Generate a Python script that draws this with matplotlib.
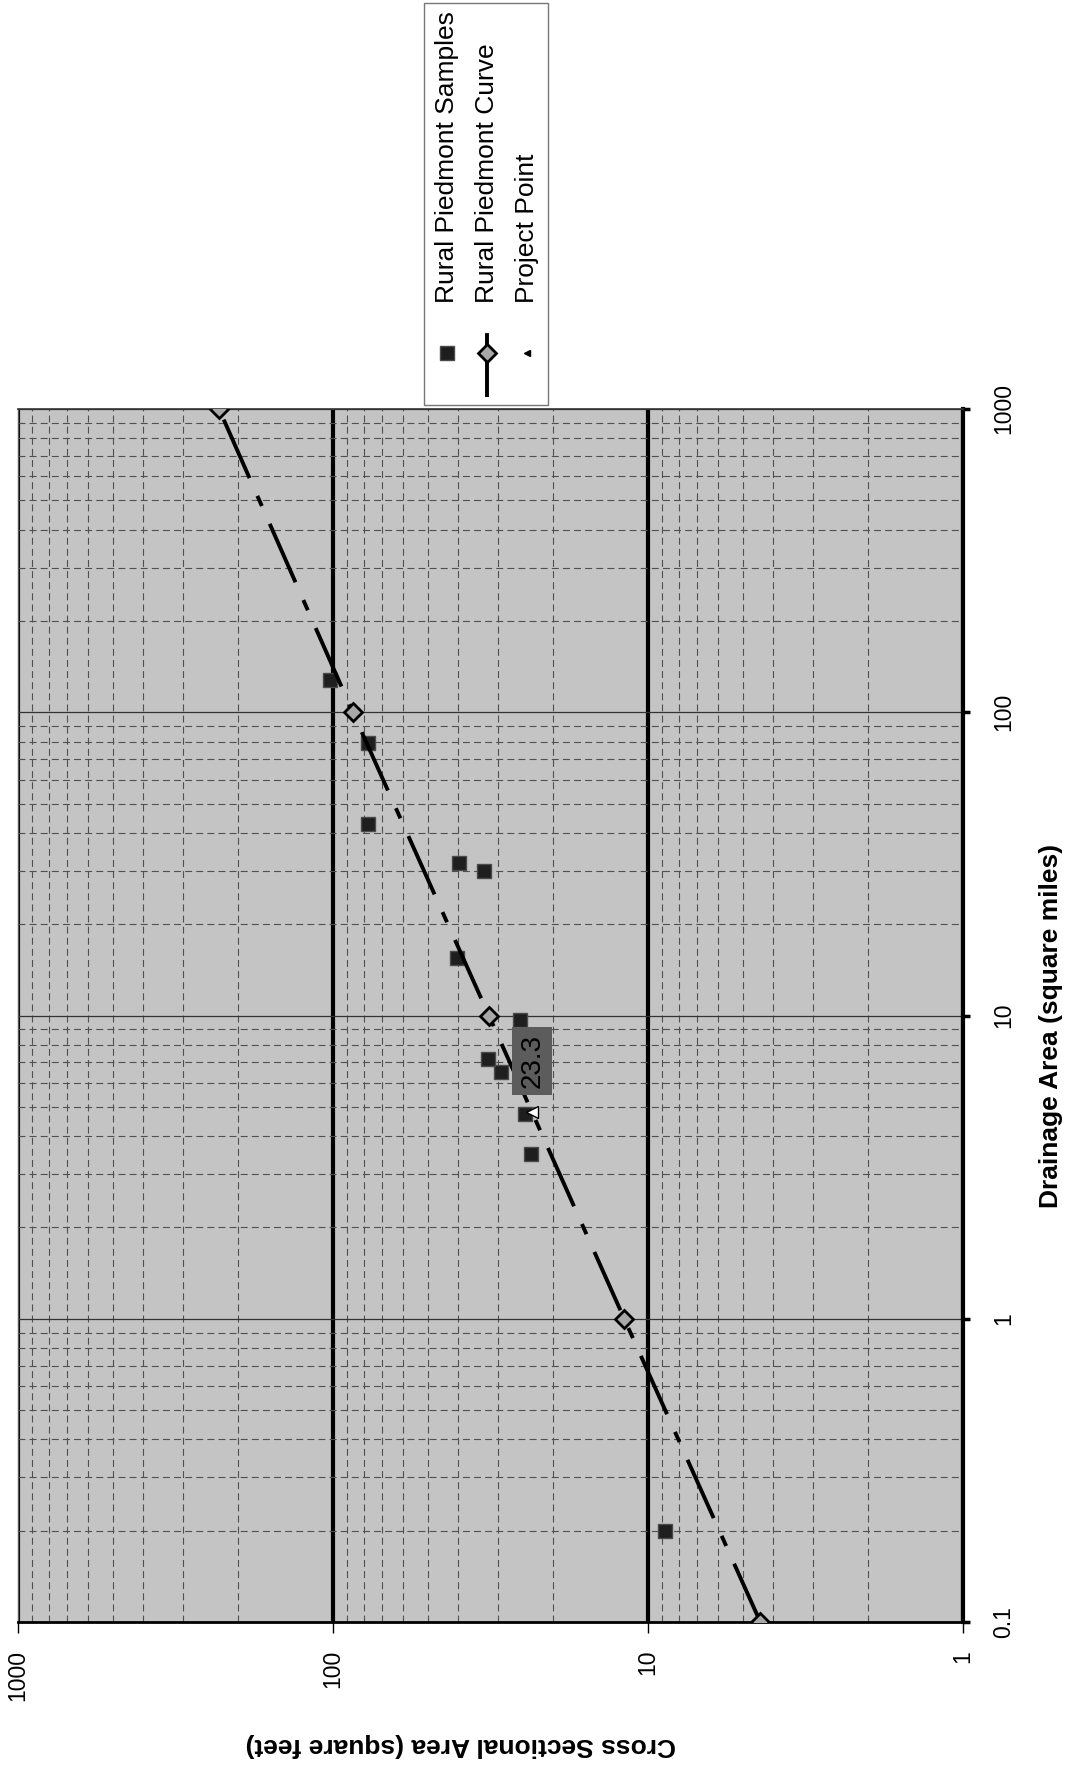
import matplotlib
matplotlib.use("Agg")
import matplotlib.pyplot as plt
from matplotlib.patches import Rectangle
from matplotlib.lines import Line2D
from matplotlib.ticker import LogLocator, NullFormatter

plt.rcParams['font.family'] = ['Liberation Sans', 'DejaVu Sans']
plt.rcParams['lines.scale_dashes'] = False

# rural piedmont samples: drainage area (sq mi) / cross sectional area (sq ft)
sample_da = [0.2, 3.5, 4.75, 6.5, 7.2, 9.7, 15.5, 29.9, 31.8, 42.7, 79, 128]
sample_xs = [8.8, 23.5, 24.5, 29.3, 32.2, 25.5, 40.4, 33.2, 39.8, 77.4, 77.4, 102]

# regional curve
curve_da = [0.1, 1, 10, 100, 1000]
curve_xs = [4.4, 11.9, 32.0, 86.5, 230]

# project point
project_da = [4.8]
project_xs = [23.3]

xs_ticks = [1000, 100, 10, 1]
xs_labels = ["1000", "100", "10", "1"]
da_ticks = [0.1, 1, 10, 100, 1000]
da_labels = ["0.1", "1", "10", "100", "1000"]

W, H = 1070, 1767
fig = plt.figure(figsize=(W / 100, H / 100), dpi=100)

def fx(x):
    return x / W

def fy(y):
    return 1 - y / H

# chart is drawn turned on its side: cross section runs right-to-left, drainage area bottom-to-top
ax = fig.add_axes([fx(18), fy(1622), (963 - 18) / W, (1622 - 409) / H])
ax.set_facecolor('#c4c4c4')
ax.set_xscale('log')
ax.set_yscale('log')
ax.set_xlim(1000, 1)
ax.set_ylim(0.1, 1000)

ax.xaxis.set_minor_locator(LogLocator(base=10, subs=range(2, 10)))
ax.yaxis.set_minor_locator(LogLocator(base=10, subs=range(2, 10)))
ax.xaxis.set_minor_formatter(NullFormatter())
ax.yaxis.set_minor_formatter(NullFormatter())

ax.xaxis.grid(True, which='major', color='black', lw=3)
ax.yaxis.grid(True, which='major', color='#333333', lw=0.9)
ax.grid(True, which='minor', color='#505050', lw=0.8, ls=(0, (5, 3)))
ax.set_axisbelow(True)

ax.plot(sample_xs, sample_da, ls='none', marker='s', ms=10, mfc='#1e1e1e', mec='#4a4a4a', mew=1,
        label='Rural Piedmont Samples', zorder=3)
curve, = ax.plot(curve_xs, curve_da, color='black', lw=2.8, marker='D', ms=9.5, mfc='#a8a8a8',
                 mec='black', mew=2, label='Rural Piedmont Curve', zorder=4)
curve.set_dashes([46, 14, 8, 14])
ax.plot(project_xs, project_da, ls='none', marker='<', ms=8, mfc='white', mec='black', mew=1,
        label='Project Point', zorder=5)
ax.annotate(f"{project_xs[0]:.1f}", xy=(project_xs[0], project_da[0]), xytext=(0, 37),
            textcoords='offset points', ha='center', va='center', rotation=90, fontsize=20,
            bbox=dict(boxstyle='square,pad=0.25', fc='#5c5c5c', ec='none'), zorder=6)

ax.set_xticks(xs_ticks)
ax.set_xticklabels(xs_labels, rotation=90, fontsize=16.5)
ax.yaxis.tick_right()
ax.set_yticks(da_ticks)
ax.set_yticklabels(da_labels, rotation=90, fontsize=16.5, va='center')
ax.tick_params(axis='x', which='major', direction='out', length=8, width=1, pad=12)
ax.tick_params(axis='y', which='major', direction='out', length=5, width=2.5, pad=16)
ax.tick_params(which='minor', length=0)

ax.spines['left'].set_color('#555555')
ax.spines['left'].set_linewidth(1)
ax.spines['top'].set_color('#333333')
ax.spines['top'].set_linewidth(1.2)
ax.spines['right'].set_linewidth(3)
ax.spines['bottom'].set_linewidth(2)

ax.set_xlabel("Cross Sectional Area (square feet)", rotation=180, fontsize=19, fontweight='bold')
ax.xaxis.label.set_va('center')
ax.xaxis.set_label_coords(0.468, -0.101)
ax.set_ylabel("Drainage Area (square miles)", rotation=90, fontsize=19, fontweight='bold')
ax.yaxis.label.set_va('center')
ax.yaxis.set_label_coords(1.093, 0.491)

# legend, turned like the rest of the chart
fig.add_artist(Rectangle((fx(424), fy(405)), 124 / W, 402 / H, transform=fig.transFigure,
                         fc='white', ec='#777777', lw=1))
fig.add_artist(Line2D([fx(447)], [fy(353)], transform=fig.transFigure, ls='none', marker='s',
                      ms=10, mfc='#1e1e1e', mec='#4a4a4a'))
leg_line = Line2D([fx(487), fx(487)], [fy(397), fy(326)], transform=fig.transFigure,
                  color='black', lw=2.8)
leg_line.set_dashes([46, 6, 4, 14])
fig.add_artist(leg_line)
fig.add_artist(Line2D([fx(487)], [fy(353)], transform=fig.transFigure, ls='none', marker='D',
                      ms=9.5, mfc='#a8a8a8', mec='black', mew=2))
fig.add_artist(Line2D([fx(527)], [fy(353)], transform=fig.transFigure, ls='none', marker='<',
                      ms=5, mfc='black', mec='black'))
for xpos, txt in [(447, 'Rural Piedmont Samples'), (487, 'Rural Piedmont Curve'), (527, 'Project Point')]:
    fig.text(fx(xpos), fy(303), txt, rotation=90, ha='center', va='bottom', fontsize=19)

fig.savefig("out.png", dpi=100)
